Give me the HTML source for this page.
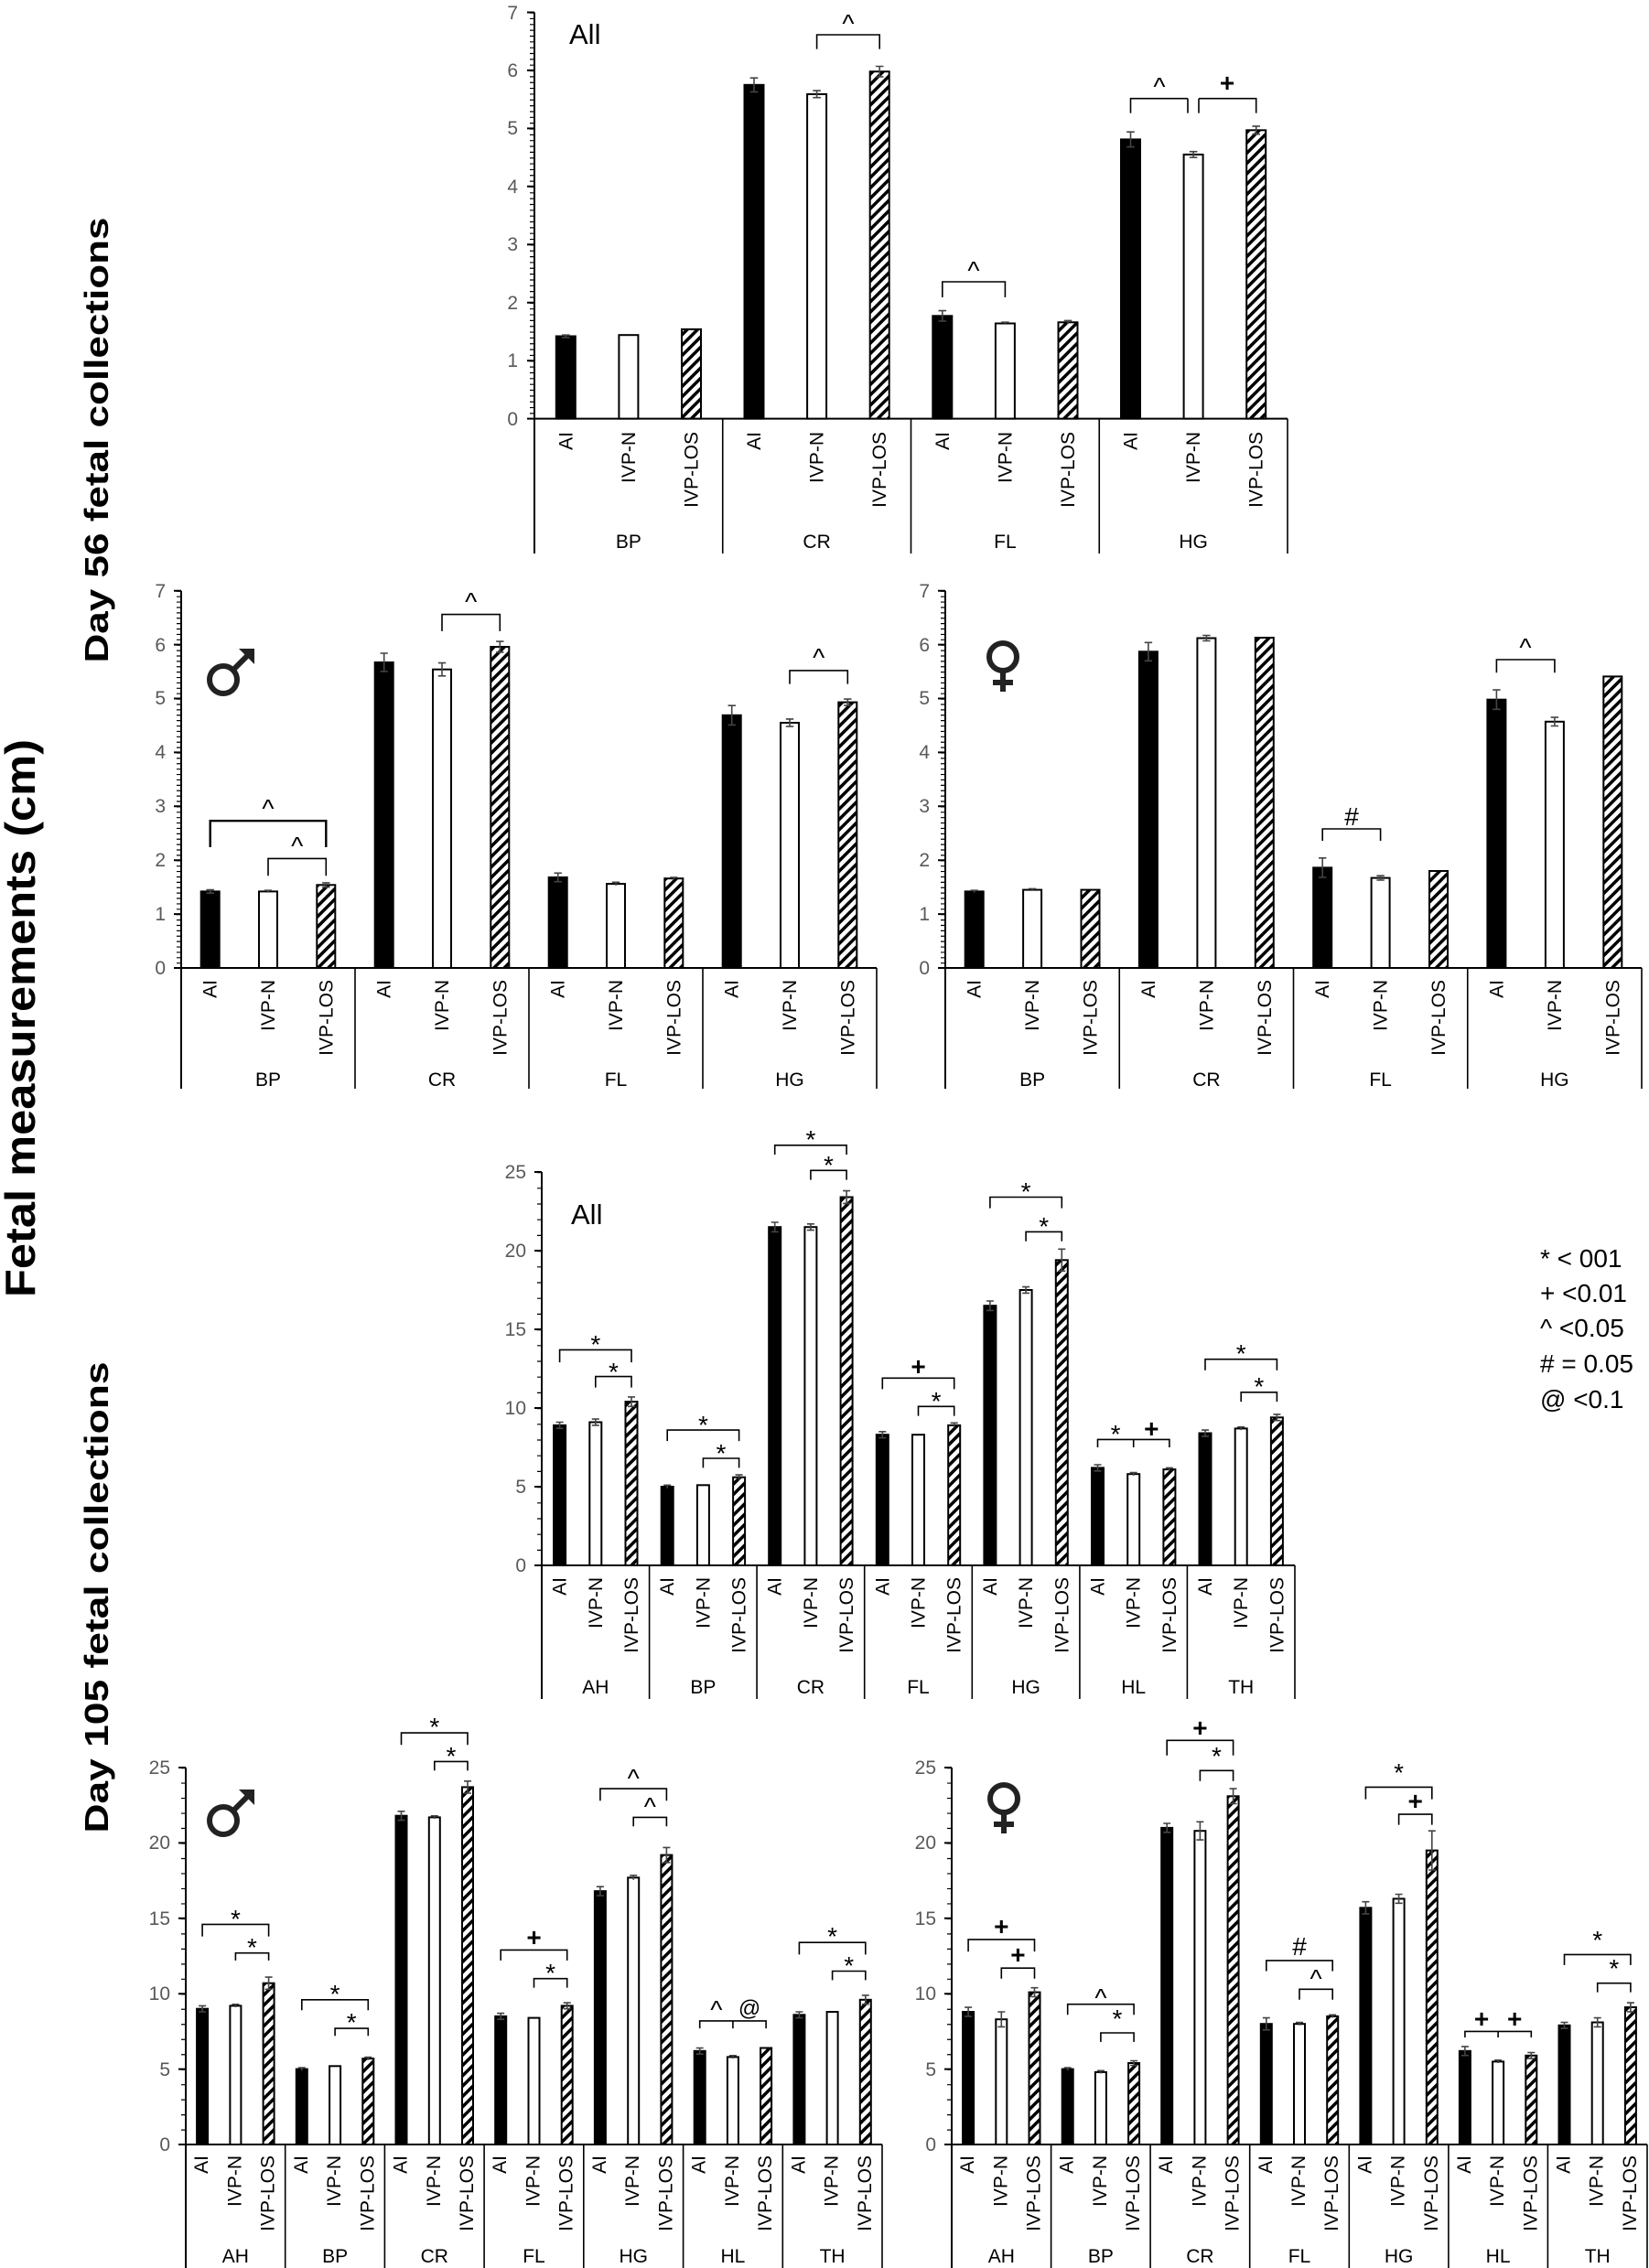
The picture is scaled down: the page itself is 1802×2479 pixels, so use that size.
<!DOCTYPE html>
<html><head><meta charset="utf-8"><style>
html,body{margin:0;padding:0;background:#fff}
svg{display:block}
text{font-family:"Liberation Sans",Arial,sans-serif}
.yl{font-size:21px;fill:#595959;text-anchor:end}
.rl{font-size:21px;fill:#000;text-anchor:end}
.cl{font-size:21px;fill:#000;text-anchor:middle}
.ax{stroke:#000;stroke-width:2;fill:none}
.sep{stroke:#000;stroke-width:1.6;fill:none}
.b{fill:#000;stroke:#000;stroke-width:2}
.w{fill:#fff;stroke:#000;stroke-width:2}
.h{fill:url(#hatch);stroke:#000;stroke-width:2}
.e{stroke:#444;stroke-width:1.6;fill:none}
.br{stroke:#000;stroke-width:1.6;fill:none}
.sg{font-size:28px;text-anchor:middle;fill:#000}
.title{font-weight:bold;fill:#000;text-anchor:middle}
.sx{stroke:#222;stroke-width:6;fill:none}
</style></head><body>
<svg width="1802" height="2479" viewBox="0 0 1802 2479" xmlns="http://www.w3.org/2000/svg">
<defs>
<pattern id="hatch" patternUnits="userSpaceOnUse" width="8" height="8" patternTransform="rotate(45)">
<rect width="8" height="8" fill="#fff"/><rect x="0" y="0" width="3.5" height="8" fill="#000"/>
</pattern>
<g id="male"><circle class="sx" cx="0" cy="0" r="15"/><line class="sx" x1="10" y1="-10" x2="26" y2="-26"/><polygon points="34,-34 17,-34 34,-17" fill="#222"/></g>
<g id="female"><circle class="sx" cx="0" cy="0" r="15"/><line class="sx" x1="0" y1="15" x2="0" y2="38"/><line class="sx" x1="-11" y1="28" x2="11" y2="28"/></g>
</defs>

<!-- Left titles -->
<text class="title" transform="translate(38,1113) rotate(-90)" font-size="46" textLength="610" lengthAdjust="spacingAndGlyphs">Fetal measurements (cm)</text>
<text class="title" transform="translate(118,481) rotate(-90)" font-size="36" textLength="487" lengthAdjust="spacingAndGlyphs">Day 56 fetal collections</text>
<text class="title" transform="translate(118,1746) rotate(-90)" font-size="36" textLength="515" lengthAdjust="spacingAndGlyphs">Day 105 fetal collections</text>

<!-- Legend -->
<g font-size="28" fill="#000">
<text x="1683" y="1385">* &lt; 001</text>
<text x="1683" y="1423">+ &lt;0.01</text>
<text x="1683" y="1461">^ &lt;0.05</text>
<text x="1683" y="1500"># = 0.05</text>
<text x="1683" y="1539">@ &lt;0.1</text>
</g>

<!-- ================= CHART 1: Day56 All ================= -->
<g>
<line x1="581.5" y1="13.5" x2="581.5" y2="457.6" stroke="#000" stroke-width="5" stroke-dasharray="1.2 5.145"/>
<g class="ax"><path d="M584 13.5 V605 M584 457.6 H1407 M576 13.5H584 M576 76.9H584 M576 140.4H584 M576 203.8H584 M576 267.3H584 M576 330.7H584 M576 394.2H584 M576 457.6H584"/></g>
<g class="sep"><path d="M789.75 457.6V605 M995.5 457.6V605 M1201.25 457.6V605 M1407 457.6V605"/></g>
<g class="yl"><text x="566" y="465">0</text><text x="566" y="401">1</text><text x="566" y="338">2</text><text x="566" y="274">3</text><text x="566" y="211">4</text><text x="566" y="147">5</text><text x="566" y="84">6</text><text x="566" y="21">7</text></g>
<text x="622" y="48" font-size="31">All</text>
<rect class="b" x="607.8" y="367.5" width="21" height="90.1"/>
<rect class="w" x="676.4" y="366.2" width="21" height="91.4"/>
<rect class="h" x="745" y="359.9" width="21" height="97.7"/>
<rect class="b" x="813.5" y="92.8" width="21" height="364.8"/>
<rect class="w" x="882.1" y="102.9" width="21" height="354.7"/>
<rect class="h" x="950.7" y="78.2" width="21" height="379.4"/>
<rect class="b" x="1019.3" y="345.3" width="21" height="112.3"/>
<rect class="w" x="1087.9" y="353.5" width="21" height="104.1"/>
<rect class="h" x="1156.5" y="352.3" width="21" height="105.3"/>
<rect class="b" x="1225" y="152.4" width="21" height="305.2"/>
<rect class="w" x="1293.6" y="168.9" width="21" height="288.7"/>
<rect class="h" x="1362.2" y="142.3" width="21" height="315.3"/>
<g class="e"><path d="M618.3 366.2V368.8 M614 366.2h8.6 M614 368.8h8.6
M824 85.2V100.4 M819.7 85.2h8.6 M819.7 100.4h8.6
M892.6 99.1V106.7 M888.3 99.1h8.6 M888.3 106.7h8.6
M961.2 72.5V83.9 M956.9 72.5h8.6 M956.9 83.9h8.6
M1029.8 339.6V351 M1025.5 339.6h8.6 M1025.5 351h8.6
M1098.4 352.2V354.8 M1094.1 352.2h8.6
M1167 350.4V354.2 M1162.7 350.4h8.6
M1235.5 144.2V160.6 M1231.2 144.2h8.6 M1231.2 160.6h8.6
M1304.1 165.7V172.1 M1299.8 165.7h8.6 M1299.8 172.1h8.6
M1372.7 137.9V146.7 M1368.4 137.9h8.6 M1368.4 146.7h8.6"/></g>
<g class="br"><path d="M892.6 53.6V38H961.2V53.6 M1029.8 325V308H1098.4V325 M1235.5 123.6V107.7H1298 M1310 107.7H1372.7V123.6 M1298 107.7V123.6 M1310 107.7V123.6"/></g>
<g class="sg"><text x="927" y="35">^</text><text x="1064" y="305">^</text><text x="1267" y="104">^</text><text x="1341" y="100" font-weight="bold">+</text></g>
<g class="rl">
<text transform="translate(625.3,472) rotate(-90)">AI</text><text transform="translate(693.9,472) rotate(-90)">IVP-N</text><text transform="translate(762.5,472) rotate(-90)">IVP-LOS</text>
<text transform="translate(831,472) rotate(-90)">AI</text><text transform="translate(899.6,472) rotate(-90)">IVP-N</text><text transform="translate(968.2,472) rotate(-90)">IVP-LOS</text>
<text transform="translate(1036.8,472) rotate(-90)">AI</text><text transform="translate(1105.4,472) rotate(-90)">IVP-N</text><text transform="translate(1174,472) rotate(-90)">IVP-LOS</text>
<text transform="translate(1242.5,472) rotate(-90)">AI</text><text transform="translate(1311.1,472) rotate(-90)">IVP-N</text><text transform="translate(1379.7,472) rotate(-90)">IVP-LOS</text>
</g>
<g class="cl"><text x="686.9" y="599">BP</text><text x="892.6" y="599">CR</text><text x="1098.4" y="599">FL</text><text x="1304.1" y="599">HG</text></g>
</g>

<!-- ================= CHART 2a: Day56 Male ================= -->
<g>
<line x1="195.5" y1="645.7" x2="195.5" y2="1058" stroke="#000" stroke-width="5" stroke-dasharray="1.2 4.69"/>
<g class="ax"><path d="M198 645.7V1190 M198 1058H958 M190 1058H198 M190 999.1H198 M190 940.2H198 M190 881.3H198 M190 822.4H198 M190 763.5H198 M190 704.6H198 M190 645.7H198"/></g>
<g class="sep"><path d="M388 1058V1190 M578 1058V1190 M768 1058V1190 M958 1058V1190"/></g>
<g class="yl"><text x="181" y="1065">0</text><text x="181" y="1006">1</text><text x="181" y="947">2</text><text x="181" y="888">3</text><text x="181" y="829">4</text><text x="181" y="770">5</text><text x="181" y="712">6</text><text x="181" y="653">7</text></g>
<use href="#male" x="244" y="743"/>
<rect class="b" x="219.7" y="974.4" width="20" height="83.6"/>
<rect class="w" x="283" y="974.4" width="20" height="83.6"/>
<rect class="h" x="346.3" y="967.3" width="20" height="90.7"/>
<rect class="b" x="409.7" y="724" width="20" height="334"/>
<rect class="w" x="473" y="731.7" width="20" height="326.3"/>
<rect class="h" x="536.3" y="707" width="20" height="351"/>
<rect class="b" x="599.7" y="959" width="20" height="99"/>
<rect class="w" x="663" y="966.1" width="20" height="91.9"/>
<rect class="h" x="726.3" y="960.2" width="20" height="97.8"/>
<rect class="b" x="789.7" y="781.8" width="20" height="276.2"/>
<rect class="w" x="853" y="790" width="20" height="268"/>
<rect class="h" x="916.3" y="767.6" width="20" height="290.4"/>
<g class="e"><path d="M229.7 972.6V976.2 M225.5 972.6h8.4 M225.5 976.2h8.4
M293 973.2V975.6 M288.8 973.2h8.4
M356.3 964.9V969.7 M352.1 964.9h8.4 M352.1 969.7h8.4
M419.7 714V734 M415.5 714h8.4 M415.5 734h8.4
M483 724.6V738.8 M478.8 724.6h8.4 M478.8 738.8h8.4
M546.3 701.1V712.9 M542.1 701.1h8.4 M542.1 712.9h8.4
M609.7 954.3V963.7 M605.5 954.3h8.4 M605.5 963.7h8.4
M673 964.3V967.9 M668.8 964.3h8.4
M736.3 959V961.4 M732.1 959h8.4
M799.7 771.2V792.4 M795.5 771.2h8.4 M795.5 792.4h8.4
M863 785.9V794.1 M858.8 785.9h8.4 M858.8 794.1h8.4
M926.3 764.1V771.1 M922.1 764.1h8.4 M922.1 771.1h8.4"/></g>
<g class="br"><path d="M229.7 926V897.2H356.3V926" stroke-width="2.4"/><path d="M293 957.3V938.4H356.3V957.3 M483 689.9V671.6H546.3V689.9 M863 747.6V732.9H926.3V747.6"/></g>
<g class="sg"><text x="293" y="893">^</text><text x="324.7" y="934">^</text><text x="514.7" y="667">^</text><text x="894.7" y="728">^</text></g>
<g class="rl" font-size="20">
<text transform="translate(236.7,1071) rotate(-90)">AI</text><text transform="translate(300,1071) rotate(-90)">IVP-N</text><text transform="translate(363.3,1071) rotate(-90)">IVP-LOS</text>
<text transform="translate(426.7,1071) rotate(-90)">AI</text><text transform="translate(490,1071) rotate(-90)">IVP-N</text><text transform="translate(553.3,1071) rotate(-90)">IVP-LOS</text>
<text transform="translate(616.7,1071) rotate(-90)">AI</text><text transform="translate(680,1071) rotate(-90)">IVP-N</text><text transform="translate(743.3,1071) rotate(-90)">IVP-LOS</text>
<text transform="translate(806.7,1071) rotate(-90)">AI</text><text transform="translate(870,1071) rotate(-90)">IVP-N</text><text transform="translate(933.3,1071) rotate(-90)">IVP-LOS</text>
</g>
<g class="cl" font-size="20"><text x="293" y="1187">BP</text><text x="483" y="1187">CR</text><text x="673" y="1187">FL</text><text x="863" y="1187">HG</text></g>
</g>

<!-- ================= CHART 2b: Day56 Female ================= -->
<g>
<line x1="1030.5" y1="645.7" x2="1030.5" y2="1058" stroke="#000" stroke-width="5" stroke-dasharray="1.2 4.69"/>
<g class="ax"><path d="M1033 645.7V1190 M1033 1058H1794 M1025 1058H1033 M1025 999.1H1033 M1025 940.2H1033 M1025 881.3H1033 M1025 822.4H1033 M1025 763.5H1033 M1025 704.6H1033 M1025 645.7H1033"/></g>
<g class="sep"><path d="M1223.25 1058V1190 M1413.5 1058V1190 M1603.75 1058V1190 M1794 1058V1190"/></g>
<g class="yl"><text x="1016" y="1065">0</text><text x="1016" y="1006">1</text><text x="1016" y="947">2</text><text x="1016" y="888">3</text><text x="1016" y="829">4</text><text x="1016" y="770">5</text><text x="1016" y="712">6</text><text x="1016" y="653">7</text></g>
<use href="#female" x="1096" y="718"/>
<rect class="b" x="1054.7" y="974.4" width="20" height="83.6"/>
<rect class="w" x="1118.1" y="972.6" width="20" height="85.4"/>
<rect class="h" x="1181.5" y="972.6" width="20" height="85.4"/>
<rect class="b" x="1244.9" y="712.3" width="20" height="345.7"/>
<rect class="w" x="1308.4" y="697.5" width="20" height="360.5"/>
<rect class="h" x="1371.8" y="697" width="20" height="361"/>
<rect class="b" x="1435.2" y="948.4" width="20" height="109.6"/>
<rect class="w" x="1498.6" y="959.6" width="20" height="98.4"/>
<rect class="h" x="1562" y="952" width="20" height="106"/>
<rect class="b" x="1625.4" y="764.7" width="20" height="293.3"/>
<rect class="w" x="1688.9" y="788.8" width="20" height="269.2"/>
<rect class="h" x="1752.3" y="739.4" width="20" height="318.6"/>
<g class="e"><path d="M1064.7 973.2V975.6 M1060.5 973.2h8.4
M1128.1 971.4V973.8 M1123.9 971.4h8.4
M1254.9 702.3V722.3 M1250.7 702.3h8.4 M1250.7 722.3h8.4
M1318.4 694.5V700.5 M1314.2 694.5h8.4 M1314.2 700.5h8.4
M1445.2 937.8V959 M1441 937.8h8.4 M1441 959h8.4
M1508.6 957.2V962 M1504.4 957.2h8.4 M1504.4 962h8.4
M1635.4 754.1V775.3 M1631.2 754.1h8.4 M1631.2 775.3h8.4
M1698.9 784.1V793.5 M1694.7 784.1h8.4 M1694.7 793.5h8.4"/></g>
<g class="br"><path d="M1445.2 919V906H1508.6V919 M1635.4 735.2V721H1698.9V735.2"/></g>
<g class="sg"><text x="1477" y="902">#</text><text x="1667" y="717">^</text></g>
<g class="rl" font-size="20">
<text transform="translate(1071.7,1071) rotate(-90)">AI</text><text transform="translate(1135.1,1071) rotate(-90)">IVP-N</text><text transform="translate(1198.5,1071) rotate(-90)">IVP-LOS</text>
<text transform="translate(1261.9,1071) rotate(-90)">AI</text><text transform="translate(1325.4,1071) rotate(-90)">IVP-N</text><text transform="translate(1388.8,1071) rotate(-90)">IVP-LOS</text>
<text transform="translate(1452.2,1071) rotate(-90)">AI</text><text transform="translate(1515.6,1071) rotate(-90)">IVP-N</text><text transform="translate(1579,1071) rotate(-90)">IVP-LOS</text>
<text transform="translate(1642.4,1071) rotate(-90)">AI</text><text transform="translate(1705.9,1071) rotate(-90)">IVP-N</text><text transform="translate(1769.3,1071) rotate(-90)">IVP-LOS</text>
</g>
<g class="cl" font-size="20"><text x="1128.1" y="1187">BP</text><text x="1318.4" y="1187">CR</text><text x="1508.6" y="1187">FL</text><text x="1698.9" y="1187">HG</text></g>
</g>

<!-- ================= CHART 3: Day105 All ================= -->
<g>
<line x1="589.5" y1="1281" x2="589.5" y2="1711" stroke="#000" stroke-width="5" stroke-dasharray="1.2 16"/>
<g class="ax"><path d="M592 1281V1857 M592 1711H1415 M584 1711H592 M584 1625H592 M584 1539H592 M584 1453H592 M584 1367H592 M584 1281H592"/></g>
<g class="sep"><path d="M709.6 1711V1857 M827.1 1711V1857 M944.7 1711V1857 M1062.3 1711V1857 M1179.9 1711V1857 M1297.4 1711V1857 M1415 1711V1857"/></g>
<g class="yl"><text x="575" y="1718">0</text><text x="575" y="1632">5</text><text x="575" y="1546">10</text><text x="575" y="1460">15</text><text x="575" y="1374">20</text><text x="575" y="1288">25</text></g>
<text x="624" y="1338" font-size="31">All</text>
<g>
<rect class="b" x="605.1" y="1557.9" width="13" height="153.1"/><rect class="w" x="644.3" y="1554.5" width="13" height="156.5"/><rect class="h" x="683.5" y="1532.1" width="13" height="178.9"/>
<rect class="b" x="722.7" y="1625" width="13" height="86"/><rect class="w" x="761.9" y="1623.3" width="13" height="87.7"/><rect class="h" x="801.1" y="1614.7" width="13" height="96.3"/>
<rect class="b" x="840.2" y="1341.2" width="13" height="369.8"/><rect class="w" x="879.4" y="1341.2" width="13" height="369.8"/><rect class="h" x="918.6" y="1308.5" width="13" height="402.5"/>
<rect class="b" x="957.8" y="1568.2" width="13" height="142.8"/><rect class="w" x="997" y="1568.2" width="13" height="142.8"/><rect class="h" x="1036.2" y="1557.9" width="13" height="153.1"/>
<rect class="b" x="1075.4" y="1427.2" width="13" height="283.8"/><rect class="w" x="1114.6" y="1410" width="13" height="301"/><rect class="h" x="1153.8" y="1377.3" width="13" height="333.7"/>
<rect class="b" x="1193" y="1604.4" width="13" height="106.6"/><rect class="w" x="1232.2" y="1611.2" width="13" height="99.8"/><rect class="h" x="1271.4" y="1606.1" width="13" height="104.9"/>
<rect class="b" x="1310.5" y="1566.5" width="13" height="144.5"/><rect class="w" x="1349.7" y="1561.4" width="13" height="149.6"/><rect class="h" x="1388.9" y="1549.3" width="13" height="161.7"/>
</g>
<g class="e"><path d="M611.6 1554.5v6.8 M607.6 1554.5h8 M607.6 1561.3h8
M650.8 1551.1v6.8 M646.8 1551.1h8 M646.8 1557.9h8
M690 1526.9v10.4 M686 1526.9h8 M686 1537.3h8
M729.2 1623.3v3.4 M725.2 1623.3h8
M807.6 1612.1v5.2 M803.6 1612.1h8
M846.7 1336v10.4 M842.7 1336h8 M842.7 1346.4h8
M885.9 1337.8v6.8 M881.9 1337.8h8 M881.9 1344.6h8
M925.1 1301.6v13.8 M921.1 1301.6h8 M921.1 1315.4h8
M964.3 1564.8v6.8 M960.3 1564.8h8 M960.3 1571.6h8
M1042.7 1555.3v5.2 M1038.7 1555.3h8
M1081.9 1422v10.4 M1077.9 1422h8 M1077.9 1432.4h8
M1121.1 1406.6v6.8 M1117.1 1406.6h8 M1117.1 1413.4h8
M1160.3 1365.3v24 M1156.3 1365.3h8 M1156.3 1389.3h8
M1199.5 1601v6.8 M1195.5 1601h8 M1195.5 1607.8h8
M1238.7 1609.5v3.4 M1234.7 1609.5h8
M1277.9 1604.4v3.4 M1273.9 1604.4h8
M1317 1563.1v6.8 M1313 1563.1h8 M1313 1569.9h8
M1356.2 1559.7v3.4 M1352.2 1559.7h8
M1395.4 1545.9v6.8 M1391.4 1545.9h8 M1391.4 1552.7h8"/></g>
<g class="br"><path d="M611.6 1489.1V1475.4H690V1489.1 M650.8 1516.6V1504.6H690V1516.6
M729.2 1575.1V1563.1H807.6V1575.1 M768.4 1604.4V1594H807.6V1604.4
M846.7 1262V1251.8H925.1V1262 M885.9 1289.6V1279.3H925.1V1289.6
M964.3 1518.4V1506.3H1042.7V1518.4 M1003.5 1547.6V1537.3H1042.7V1547.6
M1081.9 1320.6V1308.5H1160.3V1320.6 M1121.1 1356.7V1346.4H1160.3V1356.7
M1199.5 1582V1573.4H1277.9V1582 M1238.7 1573.4V1582
M1317 1497.7V1485.7H1395.4V1497.7 M1356.2 1532.1V1521.8H1395.4V1532.1"/></g>
<g class="sg">
<text x="650.8" y="1479">*</text><text x="670.4" y="1509">*</text>
<text x="768.4" y="1567">*</text><text x="788" y="1598">*</text>
<text x="885.9" y="1255">*</text><text x="905.5" y="1283">*</text>
<text x="1003.5" y="1503" font-weight="bold">+</text><text x="1023.1" y="1541">*</text>
<text x="1121.1" y="1312">*</text><text x="1140.7" y="1350">*</text>
<text x="1219.1" y="1577">*</text><text x="1258.3" y="1571" font-weight="bold">+</text>
<text x="1356.2" y="1489">*</text><text x="1375.8" y="1525">*</text>
</g>
<g class="rl" font-size="20">
<text transform="translate(618.6,1724) rotate(-90)">AI</text><text transform="translate(657.8,1724) rotate(-90)">IVP-N</text><text transform="translate(697,1724) rotate(-90)">IVP-LOS</text>
<text transform="translate(736.2,1724) rotate(-90)">AI</text><text transform="translate(775.4,1724) rotate(-90)">IVP-N</text><text transform="translate(814.6,1724) rotate(-90)">IVP-LOS</text>
<text transform="translate(853.7,1724) rotate(-90)">AI</text><text transform="translate(892.9,1724) rotate(-90)">IVP-N</text><text transform="translate(932.1,1724) rotate(-90)">IVP-LOS</text>
<text transform="translate(971.3,1724) rotate(-90)">AI</text><text transform="translate(1010.5,1724) rotate(-90)">IVP-N</text><text transform="translate(1049.7,1724) rotate(-90)">IVP-LOS</text>
<text transform="translate(1088.9,1724) rotate(-90)">AI</text><text transform="translate(1128.1,1724) rotate(-90)">IVP-N</text><text transform="translate(1167.3,1724) rotate(-90)">IVP-LOS</text>
<text transform="translate(1206.5,1724) rotate(-90)">AI</text><text transform="translate(1245.7,1724) rotate(-90)">IVP-N</text><text transform="translate(1284.9,1724) rotate(-90)">IVP-LOS</text>
<text transform="translate(1324,1724) rotate(-90)">AI</text><text transform="translate(1363.2,1724) rotate(-90)">IVP-N</text><text transform="translate(1402.4,1724) rotate(-90)">IVP-LOS</text>
</g>
<g class="cl" font-size="20"><text x="650.8" y="1851">AH</text><text x="768.4" y="1851">BP</text><text x="885.9" y="1851">CR</text><text x="1003.5" y="1851">FL</text><text x="1121.1" y="1851">HG</text><text x="1238.7" y="1851">HL</text><text x="1356.2" y="1851">TH</text></g>
</g>

<!-- ================= CHART 4a: Day105 Male ================= -->
<g>
<line x1="200.5" y1="1932" x2="200.5" y2="2344" stroke="#000" stroke-width="5" stroke-dasharray="1.2 15.28"/>
<g class="ax"><path d="M203 1932V2479 M203 2344H964 M195 2344H203 M195 2261.6H203 M195 2179.2H203 M195 2096.8H203 M195 2014.4H203 M195 1932H203"/></g>
<g class="sep"><path d="M311.7 2344V2479 M420.4 2344V2479 M529.1 2344V2479 M637.8 2344V2479 M746.6 2344V2479 M855.3 2344V2479 M964 2344V2479"/></g>
<g class="yl"><text x="186" y="2351">0</text><text x="186" y="2269">5</text><text x="186" y="2186">10</text><text x="186" y="2104">15</text><text x="186" y="2021">20</text><text x="186" y="1939">25</text></g>
<use href="#male" x="244" y="1990"/>
<g>
<rect class="b" x="215.1" y="2195.7" width="12" height="148.3"/><rect class="w" x="251.4" y="2192.4" width="12" height="151.6"/><rect class="h" x="287.6" y="2167.7" width="12" height="176.3"/>
<rect class="b" x="323.8" y="2261.6" width="12" height="82.4"/><rect class="w" x="360.1" y="2258.3" width="12" height="85.7"/><rect class="h" x="396.3" y="2250.1" width="12" height="93.9"/>
<rect class="b" x="432.5" y="1984.7" width="12" height="359.3"/><rect class="w" x="468.8" y="1986.4" width="12" height="357.6"/><rect class="h" x="505" y="1953.4" width="12" height="390.6"/>
<rect class="b" x="541.2" y="2203.9" width="12" height="140.1"/><rect class="w" x="577.5" y="2205.6" width="12" height="138.4"/><rect class="h" x="613.7" y="2192.4" width="12" height="151.6"/>
<rect class="b" x="649.9" y="2067.1" width="12" height="276.9"/><rect class="w" x="686.2" y="2052.3" width="12" height="291.7"/><rect class="h" x="722.4" y="2027.6" width="12" height="316.4"/>
<rect class="b" x="758.7" y="2241.8" width="12" height="102.2"/><rect class="w" x="794.9" y="2248.4" width="12" height="95.6"/><rect class="h" x="831.1" y="2238.5" width="12" height="105.5"/>
<rect class="b" x="867.4" y="2202.3" width="12" height="141.7"/><rect class="w" x="903.6" y="2199" width="12" height="145"/><rect class="h" x="939.8" y="2185.8" width="12" height="158.2"/>
</g>
<g class="e"><path d="M221.1 2192.4v6.6 M217.1 2192.4h8 M217.1 2199h8
M257.4 2190.8v3.2 M253.4 2190.8h8
M293.6 2161.1v13.2 M289.6 2161.1h8 M289.6 2174.3h8
M329.8 2260v3.2 M325.8 2260h8
M402.3 2248.5v3.2 M398.3 2248.5h8
M438.5 1979.8v9.8 M434.5 1979.8h8 M434.5 1989.6h8
M474.8 1984.8v3.2 M470.8 1984.8h8
M511 1946.8v13.2 M507 1946.8h8 M507 1960h8
M547.2 2200.6v6.6 M543.2 2200.6h8 M543.2 2207.2h8
M619.7 2189.1v6.6 M615.7 2189.1h8 M615.7 2195.7h8
M655.9 2062.2v9.8 M651.9 2062.2h8 M651.9 2072h8
M692.2 2049.8v5 M688.2 2049.8h8
M728.4 2019.4v16.4 M724.4 2019.4h8 M724.4 2035.8h8
M764.7 2238.5v6.6 M760.7 2238.5h8 M760.7 2245.1h8
M800.9 2246.8v3.2 M796.9 2246.8h8
M873.4 2199v6.6 M869.4 2199h8 M869.4 2205.6h8
M945.8 2180.9v9.8 M941.8 2180.9h8 M941.8 2190.7h8"/></g>
<g class="br"><path d="M221.1 2116.6V2103.4H293.6V2116.6 M257.4 2142.9V2134.7H293.6V2142.9
M329.8 2197.3V2185.8H402.3V2197.3 M366.1 2225.3V2217.1H402.3V2225.3
M438.5 1907.3V1894.1H511V1907.3 M474.8 1935.3V1925.4H511V1935.3
M547.2 2142.9V2131.4H619.7V2142.9 M583.5 2172.6V2162.7H619.7V2172.6
M655.9 1968.3V1955.1H728.4V1968.3 M692.2 1996.3V1986.4H728.4V1996.3
M764.7 2217.1V2208.9H837.1V2217.1 M800.9 2208.9V2217.1
M873.4 2136.4V2123.2H945.8V2136.4 M909.6 2164.4V2154.5H945.8V2164.4"/></g>
<g class="sg" font-size="26">
<text x="257.4" y="2107">*</text><text x="275.5" y="2138">*</text>
<text x="366.1" y="2189">*</text><text x="384.2" y="2220">*</text>
<text x="474.8" y="1897">*</text><text x="492.9" y="1929">*</text>
<text x="583.5" y="2127" font-weight="bold">+</text><text x="601.6" y="2166">*</text>
<text x="692.2" y="1953">^</text><text x="710.3" y="1984">^</text>
<text x="782.8" y="2206">^</text><text x="819" y="2203" font-size="24">@</text>
<text x="909.6" y="2126">*</text><text x="927.7" y="2158">*</text>
</g>
<g class="rl" font-size="19">
<text transform="translate(227.1,2356) rotate(-90)">AI</text><text transform="translate(263.4,2356) rotate(-90)">IVP-N</text><text transform="translate(299.6,2356) rotate(-90)">IVP-LOS</text>
<text transform="translate(335.8,2356) rotate(-90)">AI</text><text transform="translate(372.1,2356) rotate(-90)">IVP-N</text><text transform="translate(408.3,2356) rotate(-90)">IVP-LOS</text>
<text transform="translate(444.5,2356) rotate(-90)">AI</text><text transform="translate(480.8,2356) rotate(-90)">IVP-N</text><text transform="translate(517,2356) rotate(-90)">IVP-LOS</text>
<text transform="translate(553.2,2356) rotate(-90)">AI</text><text transform="translate(589.5,2356) rotate(-90)">IVP-N</text><text transform="translate(625.7,2356) rotate(-90)">IVP-LOS</text>
<text transform="translate(661.9,2356) rotate(-90)">AI</text><text transform="translate(698.2,2356) rotate(-90)">IVP-N</text><text transform="translate(734.4,2356) rotate(-90)">IVP-LOS</text>
<text transform="translate(770.7,2356) rotate(-90)">AI</text><text transform="translate(806.9,2356) rotate(-90)">IVP-N</text><text transform="translate(843.1,2356) rotate(-90)">IVP-LOS</text>
<text transform="translate(879.4,2356) rotate(-90)">AI</text><text transform="translate(915.6,2356) rotate(-90)">IVP-N</text><text transform="translate(951.8,2356) rotate(-90)">IVP-LOS</text>
</g>
<g class="cl" font-size="20"><text x="257.4" y="2473">AH</text><text x="366.1" y="2473">BP</text><text x="474.8" y="2473">CR</text><text x="583.5" y="2473">FL</text><text x="692.2" y="2473">HG</text><text x="800.9" y="2473">HL</text><text x="909.6" y="2473">TH</text></g>
</g>

<!-- ================= CHART 4b: Day105 Female ================= -->
<g>
<line x1="1037.5" y1="1932" x2="1037.5" y2="2344" stroke="#000" stroke-width="5" stroke-dasharray="1.2 15.28"/>
<g class="ax"><path d="M1040 1932V2479 M1040 2344H1800 M1032 2344H1040 M1032 2261.6H1040 M1032 2179.2H1040 M1032 2096.8H1040 M1032 2014.4H1040 M1032 1932H1040"/></g>
<g class="sep"><path d="M1148.6 2344V2479 M1257.1 2344V2479 M1365.7 2344V2479 M1474.3 2344V2479 M1582.9 2344V2479 M1691.4 2344V2479 M1800 2344V2479"/></g>
<g class="yl"><text x="1023" y="2351">0</text><text x="1023" y="2269">5</text><text x="1023" y="2186">10</text><text x="1023" y="2104">15</text><text x="1023" y="2021">20</text><text x="1023" y="1939">25</text></g>
<use href="#female" x="1097" y="1966"/>
<g>
<rect class="b" x="1052.1" y="2199" width="12" height="145"/><rect class="w" x="1088.3" y="2207.2" width="12" height="136.8"/><rect class="h" x="1124.5" y="2177.6" width="12" height="166.4"/>
<rect class="b" x="1160.7" y="2261.6" width="12" height="82.4"/><rect class="w" x="1196.9" y="2264.9" width="12" height="79.1"/><rect class="h" x="1233.1" y="2255" width="12" height="89"/>
<rect class="b" x="1269.2" y="1997.9" width="12" height="346.1"/><rect class="w" x="1305.4" y="2001.2" width="12" height="342.8"/><rect class="h" x="1341.6" y="1963.3" width="12" height="380.7"/>
<rect class="b" x="1377.8" y="2212.2" width="12" height="131.8"/><rect class="w" x="1414" y="2212.2" width="12" height="131.8"/><rect class="h" x="1450.2" y="2203.9" width="12" height="140.1"/>
<rect class="b" x="1486.4" y="2085.3" width="12" height="258.7"/><rect class="w" x="1522.6" y="2075.4" width="12" height="268.6"/><rect class="h" x="1558.8" y="2022.6" width="12" height="321.4"/>
<rect class="b" x="1594.9" y="2241.8" width="12" height="102.2"/><rect class="w" x="1631.1" y="2253.4" width="12" height="90.6"/><rect class="h" x="1667.3" y="2246.8" width="12" height="97.2"/>
<rect class="b" x="1703.5" y="2213.8" width="12" height="130.2"/><rect class="w" x="1739.7" y="2210.5" width="12" height="133.5"/><rect class="h" x="1775.9" y="2194" width="12" height="150"/>
</g>
<g class="e"><path d="M1058.1 2194.1v9.8 M1054.1 2194.1h8 M1054.1 2203.9h8
M1094.3 2199v16.4 M1090.3 2199h8 M1090.3 2215.4h8
M1130.5 2172.7v9.8 M1126.5 2172.7h8 M1126.5 2182.5h8
M1166.7 2260v3.2 M1162.7 2260h8
M1202.9 2263.3v3.2 M1198.9 2263.3h8
M1239.1 2252.5v5 M1235.1 2252.5h8 M1235.1 2257.5h8
M1275.2 1993v9.8 M1271.2 1993h8 M1271.2 2002.8h8
M1311.4 1991.3v19.8 M1307.4 1991.3h8 M1307.4 2011.1h8
M1347.6 1955.1v16.4 M1343.6 1955.1h8 M1343.6 1971.5h8
M1383.8 2205.6v13.2 M1379.8 2205.6h8 M1379.8 2218.8h8
M1420 2210.6v3.2 M1416 2210.6h8
M1456.2 2202.3v3.2 M1452.2 2202.3h8
M1492.4 2078.7v13.2 M1488.4 2078.7h8 M1488.4 2091.9h8
M1528.6 2070.5v9.8 M1524.6 2070.5h8 M1524.6 2080.3h8
M1564.8 2001.2v42.8 M1560.8 2001.2h8 M1560.8 2044h8
M1600.9 2236.9v9.8 M1596.9 2236.9h8 M1596.9 2246.7h8
M1637.1 2251.8v3.2 M1633.1 2251.8h8
M1673.3 2243.5v6.6 M1669.3 2243.5h8 M1669.3 2250.1h8
M1709.5 2210.5v6.6 M1705.5 2210.5h8 M1705.5 2217.1h8
M1745.7 2205.6v9.8 M1741.7 2205.6h8 M1741.7 2215.4h8
M1781.9 2189.1v9.8 M1777.9 2189.1h8 M1777.9 2198.9h8"/></g>
<g class="br"><path d="M1058.1 2133.1V2119.9H1130.5V2133.1 M1094.3 2162.7V2151.2H1130.5V2162.7
M1166.7 2202.3V2190.7H1239.1V2202.3 M1202.9 2231.9V2222H1239.1V2231.9
M1275.2 1918.8V1902.3H1347.6V1918.8 M1311.4 1946.8V1935.3H1347.6V1946.8
M1383.8 2154.5V2142.9H1456.2V2154.5 M1420 2185.8V2174.3H1456.2V2185.8
M1492.4 1966.6V1953.4H1564.8V1966.6 M1528.6 1994.6V1983.1H1564.8V1994.6
M1600.9 2227V2220.4H1673.3V2227 M1637.1 2220.4V2227
M1709.5 2147.9V2136.4H1781.9V2147.9 M1745.7 2177.6V2167.7H1781.9V2177.6"/></g>
<g class="sg" font-size="26">
<text x="1094.3" y="2115" font-weight="bold">+</text><text x="1112.4" y="2146" font-weight="bold">+</text>
<text x="1202.9" y="2193">^</text><text x="1221" y="2216">*</text>
<text x="1311.4" y="1898" font-weight="bold">+</text><text x="1329.5" y="1929">*</text>
<text x="1420" y="2137">#</text><text x="1438.1" y="2172">^</text>
<text x="1528.6" y="1947">*</text><text x="1546.7" y="1978" font-weight="bold">+</text>
<text x="1619" y="2216" font-weight="bold">+</text><text x="1655.2" y="2216" font-weight="bold">+</text>
<text x="1745.7" y="2130">*</text><text x="1763.8" y="2161">*</text>
</g>
<g class="rl" font-size="19">
<text transform="translate(1064.1,2356) rotate(-90)">AI</text><text transform="translate(1100.3,2356) rotate(-90)">IVP-N</text><text transform="translate(1136.5,2356) rotate(-90)">IVP-LOS</text>
<text transform="translate(1172.7,2356) rotate(-90)">AI</text><text transform="translate(1208.9,2356) rotate(-90)">IVP-N</text><text transform="translate(1245.1,2356) rotate(-90)">IVP-LOS</text>
<text transform="translate(1281.2,2356) rotate(-90)">AI</text><text transform="translate(1317.4,2356) rotate(-90)">IVP-N</text><text transform="translate(1353.6,2356) rotate(-90)">IVP-LOS</text>
<text transform="translate(1389.8,2356) rotate(-90)">AI</text><text transform="translate(1426,2356) rotate(-90)">IVP-N</text><text transform="translate(1462.2,2356) rotate(-90)">IVP-LOS</text>
<text transform="translate(1498.4,2356) rotate(-90)">AI</text><text transform="translate(1534.6,2356) rotate(-90)">IVP-N</text><text transform="translate(1570.8,2356) rotate(-90)">IVP-LOS</text>
<text transform="translate(1606.9,2356) rotate(-90)">AI</text><text transform="translate(1643.1,2356) rotate(-90)">IVP-N</text><text transform="translate(1679.3,2356) rotate(-90)">IVP-LOS</text>
<text transform="translate(1715.5,2356) rotate(-90)">AI</text><text transform="translate(1751.7,2356) rotate(-90)">IVP-N</text><text transform="translate(1787.9,2356) rotate(-90)">IVP-LOS</text>
</g>
<g class="cl" font-size="20"><text x="1094.3" y="2473">AH</text><text x="1202.9" y="2473">BP</text><text x="1311.4" y="2473">CR</text><text x="1420" y="2473">FL</text><text x="1528.6" y="2473">HG</text><text x="1637.1" y="2473">HL</text><text x="1745.7" y="2473">TH</text></g>
</g>
</svg>
</body></html>
